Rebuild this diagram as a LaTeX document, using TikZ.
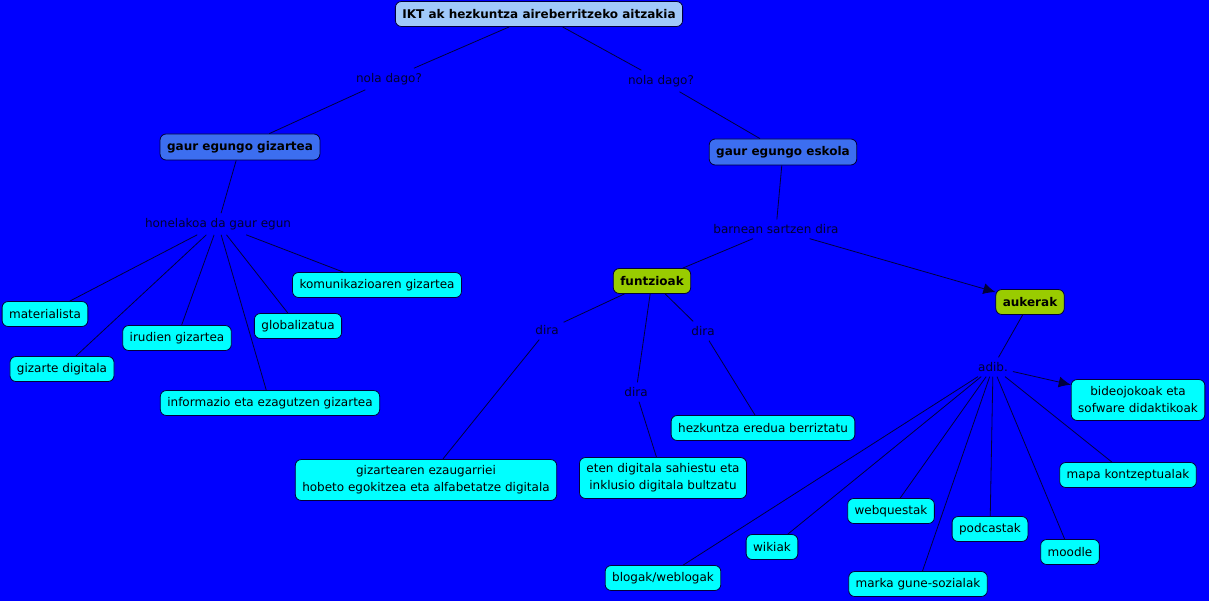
\documentclass[tikz,border=0pt]{standalone}
\usepackage{fontspec}
\setmainfont{DejaVu Sans}
\usetikzlibrary{positioning, arrows.meta}
\definecolor{cmapbg}{RGB}{0,0,255}
\definecolor{cmaproot}{RGB}{160,200,250}
\definecolor{cmapmid}{RGB}{60,110,240}
\definecolor{cmapgreen}{RGB}{153,204,0}
\definecolor{cmapcyan}{RGB}{0,255,255}
\definecolor{cmapline}{RGB}{0,0,60}
\definecolor{cmaptext}{RGB}{0,0,50}
\tikzset{
  concept/.style={draw=cmapline, line width=0.8pt, rounded corners=6pt, fill=cmapcyan,
    inner xsep=7pt, inner ysep=3pt, minimum height=25pt, align=center, text=black,
    font=\fontsize{12}{17}\selectfont},
  twoline/.style={concept, minimum height=41pt},
  topbox/.style={concept, fill=cmaproot, font=\fontsize{12}{16}\selectfont\bfseries},
  midbox/.style={concept, fill=cmapmid, minimum height=26pt, font=\fontsize{12}{16}\selectfont\bfseries},
  greenbox/.style={concept, fill=cmapgreen, font=\fontsize{12}{16}\selectfont\bfseries},
  linkword/.style={text=cmaptext, inner sep=2pt, outer sep=3pt, font=\fontsize{12}{14}\selectfont},
}
\begin{document}
\begin{tikzpicture}[x=1pt, y=-1pt, every edge/.style={draw=cmapline, line width=0.8pt}]
\useasboundingbox[fill=cmapbg] (0,0) rectangle (1209,601);

\draw   (539,14) node[topbox](root){IKT ak hezkuntza aireberritzeko aitzakia}
        (389,79) node[linkword](nolaL){nola dago?}   (661,81) node[linkword](nolaR){nola dago?}
        (240,147) node[midbox](gizartea){gaur egungo gizartea}   (783,152) node[midbox](eskola){gaur egungo eskola};
\path[-]
    (root) edge (nolaL)
    (nolaL) edge (gizartea)
    (root) edge (nolaR)
    (nolaR) edge (eskola);

% gizartea
\draw   (218,224) node[linkword](honelakoa){honelakoa da gaur egun}
        (45,314) node[concept](materialista){materialista}   (177,338) node[concept](irudien){irudien gizartea}
        (62,369) node[concept](gizdig){gizarte digitala}   (298,326) node[concept](global){globalizatua}
        (377,285) node[concept](komunik){komunikazioaren gizartea}
        (270,403) node[concept](informazio){informazio eta ezagutzen gizartea};
\path[-]
    (gizartea) edge (honelakoa)
    (honelakoa) edge (materialista)
    (honelakoa) edge (gizdig)
    (honelakoa) edge (irudien)
    (honelakoa) edge (informazio)
    (honelakoa) edge (global)
    (honelakoa) edge (komunik);

% eskola
\draw   (776,229) node[linkword](barnean){barnean sartzen dira}
        (652,281) node[greenbox](funtzioak){funtzioak}   (1030,302) node[greenbox](aukerak){aukerak}
        (547,330) node[linkword](dira1){dira}   (636,392) node[linkword](dira2){dira}   (703,331) node[linkword](dira3){dira}
        (426,480) node[twoline](ezaug){gizartearen ezaugarriei\\hobeto egokitzea eta alfabetatze digitala}
        (663,478) node[twoline](eten){eten digitala sahiestu eta\\inklusio digitala bultzatu}
        (763,428) node[concept](hezkuntza){hezkuntza eredua berriztatu};
\path[-]
    (eskola) edge (barnean)
    (barnean) edge (funtzioak)
    (barnean) edge[-{Latex[length=12pt,width=11pt]}] (aukerak)
    (funtzioak) edge (dira1)
    (dira1) edge (ezaug)
    (funtzioak) edge (dira2)
    (dira2) edge (eten)
    (funtzioak) edge (dira3)
    (dira3) edge (hezkuntza);

% aukerak
\draw   (993,367) node[linkword](adib){adib.}
        (1138,400) node[twoline](bideo){bideojokoak eta\\sofware didaktikoak}
        (1128,475) node[concept](mapa){mapa kontzeptualak}   (891,511) node[concept](webquest){webquestak}
        (990,529) node[concept](podcast){podcastak}   (1070,552) node[concept](moodle){moodle}
        (772,547) node[concept](wikiak){wikiak}   (663,578) node[concept](blogak){blogak/weblogak}
        (918,584) node[concept](marka){marka gune-sozialak};
\path[-]
    (aukerak) edge (adib)
    (adib) edge[-{Latex[length=12pt,width=11pt]}] (bideo)
    (adib) edge (mapa)
    (adib) edge (moodle)
    (adib) edge (podcast)
    (adib) edge (marka)
    (adib) edge (webquest)
    (adib) edge (wikiak)
    (adib) edge (blogak);
\end{tikzpicture}
\end{document}
